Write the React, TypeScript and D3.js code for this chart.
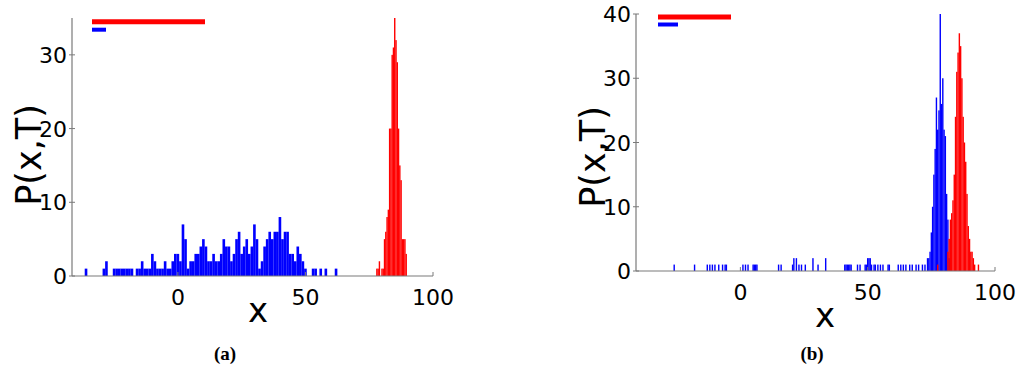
import * as d3 from "d3";

// sparse histogram bins: [bin centre, count]
const blueA: [number, number][] = [
  [-36, 1], [-29, 1], [-28, 2], [-25, 1], [-24, 1], [-23, 1], [-22, 1], [-21, 1], [-20, 1],
  [-19, 1], [-18, 1], [-16, 1], [-15, 1], [-14, 2], [-13, 1], [-12, 1], [-11, 1], [-10, 3],
  [-9, 2], [-8, 1], [-7, 1], [-6, 1], [-5, 2], [-4, 1], [-3, 1], [-2, 2], [-1, 3], [0, 3],
  [1, 2], [2, 7], [3, 5], [4, 1], [5, 2], [6, 2], [7, 3], [8, 3], [9, 4], [10, 5], [11, 4],
  [12, 2], [13, 2], [14, 3], [15, 2], [16, 2], [17, 3], [18, 5], [19, 4], [20, 4], [21, 2],
  [22, 3], [23, 5], [24, 6], [25, 3], [26, 4], [27, 5], [28, 3], [29, 4], [30, 7], [31, 5],
  [32, 1], [33, 2], [34, 4], [35, 5], [36, 6], [37, 5], [38, 6], [39, 6], [40, 8], [41, 5],
  [42, 6], [43, 6], [44, 3], [45, 3], [46, 2], [47, 4], [48, 3], [49, 2], [50, 1], [53, 1],
  [54, 1], [56, 1], [58, 1], [62, 1],
];
const redA: [number, number][] = [
  [78, 1], [78.5, 1], [79, 2], [80, 1], [80.5, 1], [81, 5], [81.5, 6], [82, 8], [82.5, 9],
  [83, 20], [83.5, 20], [84, 30], [84.5, 31], [85, 35], [85.5, 32], [86, 29], [86.5, 20],
  [87, 15], [87.5, 13], [88, 5], [88.5, 5], [89, 5], [89.5, 3],
];
const blueB: [number, number][] = [
  [-26, 1], [-18, 1], [-13, 1], [-12, 1], [-11, 1], [-10, 1], [-8.5, 1], [-7, 1], [-6, 1],
  [-5.5, 1], [1, 1], [2, 1], [3, 1], [5, 1], [5.5, 1], [6, 1], [6.5, 1], [15, 1], [16, 1],
  [20.5, 1], [21, 2], [22, 2], [23, 1], [24, 1], [25.5, 1], [28.5, 2], [30.5, 1], [33.5, 2],
  [41, 1], [41.5, 1], [42, 1], [42.5, 1], [43, 1], [43.5, 1], [46, 1], [47, 1], [49, 1],
  [49.5, 1], [50, 2], [50.5, 2], [51, 2], [51.5, 1], [52.5, 1], [53, 1], [54, 1], [55, 1],
  [56, 1], [58, 1], [58.5, 1], [62, 1], [63, 1], [64, 1], [65, 1], [66.5, 1], [67.5, 1],
  [69, 1], [70, 1], [71.5, 1], [72.5, 1], [73.5, 2], [74, 2], [74.5, 3], [75, 6], [75.5, 10],
  [76, 15], [76.5, 19], [77, 27], [77.5, 22], [78, 25], [78.5, 40], [79, 26], [79.5, 30],
  [80, 22], [80.5, 21], [81, 12], [81.5, 8], [82, 2], [82.5, 1],
];
const redB: [number, number][] = [
  [77.5, 1], [81.5, 3], [82, 5], [82.5, 8], [83, 9], [83.5, 11], [84, 15], [84.5, 24],
  [85, 31], [85.5, 34], [86, 37], [86.5, 35], [87, 30], [87.5, 24], [88, 20], [88.5, 17],
  [89, 12], [89.5, 7], [90, 5], [90.5, 3], [91, 3], [91.5, 2], [92, 1], [93.5, 1],
];

const xTicks = [0, 50, 100];
const yTicksA = [0, 10, 20, 30];
const yTicksB = [0, 10, 20, 30, 40];

const FONT = "DejaVu Sans";
const AXIS = "#7a7a7a";

type Series = { bins: [number, number][]; width: number; color: string };

function Panel(props: {
  xDomain: [number, number]; xRange: [number, number];
  yMax: number; yRange: [number, number];
  yTicks: number[]; series: Series[];
  legend: { x0: number; redEnd: number; blueEnd: number; yRed: number; yBlue: number };
  ylabelX: number; ylabelY: number; xlabelX: number; xlabelY: number;
  caption: string; captionX: number;
}) {
  const x = d3.scaleLinear().domain(props.xDomain).range(props.xRange);
  const y = d3.scaleLinear().domain([0, props.yMax]).range(props.yRange);
  const [x0, x1] = props.xRange;
  const [yb, yt] = props.yRange;
  const lg = props.legend;
  return (
    <g>
      {props.series.map((s, si) => (
        <g key={si} fill={s.color}>
          {s.bins.map(([c, n], i) => {
            const a = x(c - s.width / 2);
            const b = x(c + s.width / 2);
            const w = Math.max(1.2, (b - a) * 0.95 + 0.2);
            return <rect key={i} x={(a + b) / 2 - w / 2} y={y(n)} width={w} height={y(0) - y(n)} />;
          })}
        </g>
      ))}
      <line x1={x0} x2={x1} y1={yb} y2={yb} stroke={AXIS} strokeWidth={1.2} />
      <line x1={x0} x2={x0} y1={yb} y2={yt} stroke={AXIS} strokeWidth={1.2} />
      {xTicks.map((t) => (
        <g key={t}>
          <line x1={x(t)} x2={x(t)} y1={yb} y2={yb - 4} stroke={AXIS} />
          <text x={x(t)} y={yb + 29} textAnchor="middle" fontFamily={FONT} fontSize={22}>{t}</text>
        </g>
      ))}
      {props.yTicks.map((t) => (
        <g key={t}>
          <line x1={x0 - 3} x2={x0 + 3} y1={y(t)} y2={y(t)} stroke={AXIS} />
          <text x={x0 - 5} y={y(t) + 8} textAnchor="end" fontFamily={FONT} fontSize={22}>{t}</text>
        </g>
      ))}
      <line x1={lg.x0} x2={lg.redEnd} y1={lg.yRed} y2={lg.yRed} stroke="#ff0000" strokeWidth={5} />
      <line x1={lg.x0} x2={lg.blueEnd} y1={lg.yBlue} y2={lg.yBlue} stroke="#0000ff" strokeWidth={4} />
      <text transform={`translate(${props.ylabelX},${props.ylabelY}) rotate(-90)`} textAnchor="middle"
        fontFamily={FONT} fontSize={35}>P(x,T)</text>
      <text x={props.xlabelX} y={props.xlabelY} textAnchor="middle" fontFamily={FONT} fontSize={34}>x</text>
      <text x={props.captionX} y={360} textAnchor="middle" fontFamily="Liberation Serif" fontWeight="bold"
        fontSize={19}>{props.caption}</text>
    </g>
  );
}

export default function App() {
  return (
    <svg width={1024} height={371} style={{ position: "absolute", left: 0, top: 0, background: "#fff" }}>
      <Panel xDomain={[-41.5, 100]} xRange={[72, 433]} yMax={35} yRange={[276, 18]} yTicks={yTicksA}
        series={[{ bins: blueA, width: 1, color: "#0000ff" }, { bins: redA, width: 0.5, color: "#ff0000" }]}
        legend={{ x0: 92, redEnd: 205, blueEnd: 106, yRed: 21.7, yBlue: 29.7 }}
        ylabelX={41} ylabelY={155} xlabelX={258} xlabelY={322} caption="(a)" captionX={225} />
      <Panel xDomain={[-41, 100]} xRange={[636, 995]} yMax={40} yRange={[271, 14]} yTicks={yTicksB}
        series={[{ bins: blueB, width: 0.5, color: "#0000ff" }, { bins: redB, width: 0.5, color: "#ff0000" }]}
        legend={{ x0: 658, redEnd: 731, blueEnd: 678, yRed: 17, yBlue: 24.5 }}
        ylabelX={605} ylabelY={157} xlabelX={825} xlabelY={327} caption="(b)" captionX={812} />
    </svg>
  );
}
